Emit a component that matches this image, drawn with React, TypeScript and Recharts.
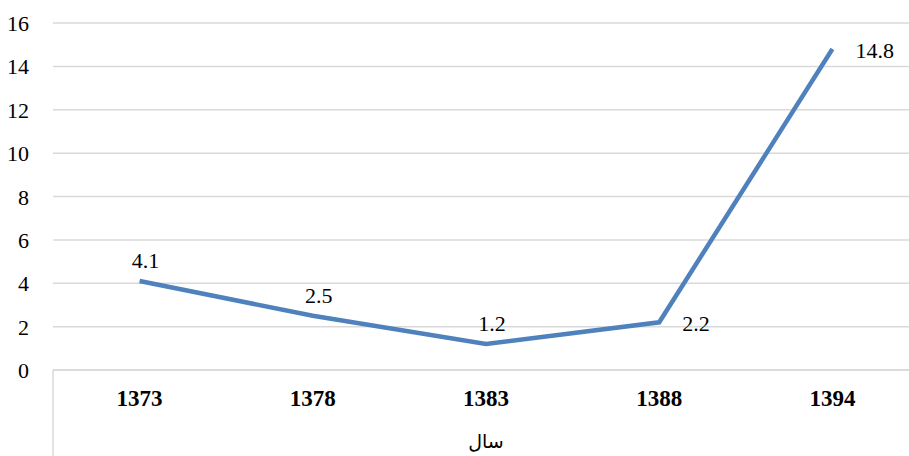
import { CartesianGrid, LabelList, Line, LineChart, XAxis, YAxis } from "recharts";

const YEARS = ["1373", "1378", "1383", "1388", "1394"];
const VALUES = [4.1, 2.5, 1.2, 2.2, 14.8];
const Y_TICKS = [0, 2, 4, 6, 8, 10, 12, 14, 16];
const AXIS_TITLE = "سال";

const data = YEARS.map((year, i) => ({ year, value: VALUES[i] }));

const W = 919;
const H = 462;
const LEFT = 53;
const BAND = (W - LEFT) / YEARS.length;
const SERIF = "Liberation Serif";

function YearTick(props: any) {
  const { x, y, payload } = props;
  const idx = props.index ?? payload?.index;
  return (
    <g>
      {idx === 0 && (
        <line x1={x - BAND / 2} x2={x - BAND / 2} y1={y - 8} y2={y + 100} stroke="#D9D9D9" strokeWidth={1.5} />
      )}
      <text
        x={x}
        y={y + 28}
        textAnchor="middle"
        style={{ fontFamily: SERIF, fontWeight: "bold", fontSize: 23 }}
        fill="#000"
      >
        {payload.value}
      </text>
    </g>
  );
}

function ValueLabel(props: any) {
  const { x, y, value, index } = props;
  const right = index >= 3;
  return (
    <text
      x={right ? x + 23 : x + 6}
      y={right ? y + 9 : y - 13}
      textAnchor={right ? "start" : "middle"}
      style={{ fontFamily: SERIF, fontSize: 22 }}
      fill="#000"
    >
      {value}
    </text>
  );
}

function NumTick(props: any) {
  const { x, y, payload } = props;
  return (
    <text x={x} y={y + 8} textAnchor="end" style={{ fontFamily: SERIF, fontSize: 22 }} fill="#000">
      {payload.value}
    </text>
  );
}

export default function App() {
  return (
    <div style={{ position: "absolute", left: 0, top: 0, width: 909, height: 456, overflow: "hidden", background: "#fff" }}>
      <LineChart width={W} height={H} data={data} margin={{ top: 23, right: 0, bottom: 0, left: 0 }}>
        <CartesianGrid vertical={false} stroke="#D9D9D9" strokeWidth={1.5} />
        <XAxis
          dataKey="year"
          height={92}
          tickLine={false}
          axisLine={{ stroke: "#D9D9D9", strokeWidth: 1.5 }}
          tick={<YearTick />}
          interval={0}
          padding={{ left: BAND / 2, right: BAND / 2 }}
          label={{
            value: AXIS_TITLE,
            position: "insideBottom",
            offset: 14,
            fontFamily: "DejaVu Sans",
            fontSize: 19,
            fill: "#000",
          }}
        />
        <YAxis
          width={LEFT}
          domain={[0, 16]}
          ticks={Y_TICKS}
          tickLine={false}
          axisLine={false}
          tickMargin={18}
          tick={<NumTick />}
        />
        <Line
          dataKey="value"
          stroke="#4F81BD"
          strokeWidth={4.5}
          dot={false}
          isAnimationActive={false}
        >
          <LabelList dataKey="value" content={<ValueLabel />} />
        </Line>
      </LineChart>
    </div>
  );
}
